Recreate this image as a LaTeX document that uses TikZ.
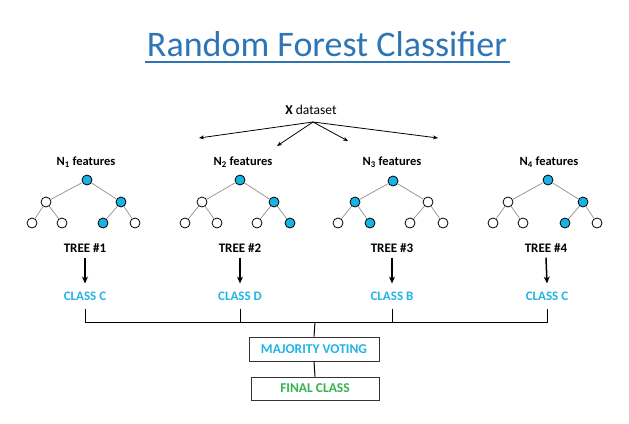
\documentclass[tikz,border=0pt]{standalone}
\usepackage{fontspec}
\setmainfont{Carlito}
\usetikzlibrary{arrows.meta}
\definecolor{titleblue}{RGB}{46,117,182}
\definecolor{cyanblue}{RGB}{34,180,228}
\definecolor{nodeblue}{RGB}{26,178,226}
\definecolor{greenclass}{RGB}{52,180,80}
\tikzset{
  wnode/.style={circle,draw=black,line width=0.8pt,fill=white,minimum size=10pt,inner sep=0pt},
  bnode/.style={circle,draw=black,line width=0.8pt,fill=nodeblue,minimum size=10pt,inner sep=0pt},
  edge/.style={draw=gray!80,line width=0.8pt},
  feat/.style={font=\bfseries\fontsize{12.5}{13}\selectfont,inner sep=0pt},
  treelab/.style={font=\bfseries\fontsize{13}{14}\selectfont,inner sep=0pt},
  classlab/.style={font=\bfseries\fontsize{13}{14}\selectfont,text=cyanblue,inner sep=0pt},
  darrow/.style={-{Stealth[length=5pt,width=4pt]},line width=0.8pt},
  tarrow/.style={-{Stealth[length=7pt,width=6pt]},line width=1.5pt},
  conn/.style={line width=1pt},
  box/.style={draw=black!80,line width=0.9pt,minimum width=130pt,minimum height=24pt,inner sep=0pt,font=\bfseries\fontsize{13.5}{14}\selectfont}
}
\begin{document}
\begin{tikzpicture}[x=1pt,y=-1pt]
\useasboundingbox (0,0) rectangle (629,423);
% title
\node[text=titleblue,font=\fontsize{36}{40}\selectfont,inner sep=0pt] (title) at (327,44) {Random Forest Classifier};
\draw[titleblue,line width=1.2pt] (145,62) -- (510,62);
% dataset
\node[inner sep=0pt,font=\fontsize{13.5}{14}\selectfont] (ds) at (311,110) {\textbf{X} dataset};
\coordinate (dso) at (313,122);
\coordinate (d1) at (199,138);
\coordinate (d2) at (277,146);
\coordinate (d3) at (348,141);
\coordinate (d4) at (438,138);
\foreach \d in {d1,d2,d3,d4} \draw[darrow] (dso) -- (\d);
% feature labels
\node[feat] (f1) at (86,162) {N\textsubscript{1} features};
\node[feat] (f2) at (243,162) {N\textsubscript{2} features};
\node[feat] (f3) at (392,162) {N\textsubscript{3} features};
\node[feat] (f4) at (549,162) {N\textsubscript{4} features};
% tree 1
\node[bnode] (a0) at (87,180) {};
\node[wnode] (a1) at (46,202) {};
\node[bnode] (a2) at (121,202) {};
\node[wnode] (a3) at (32,223) {};
\node[wnode] (a4) at (62,223) {};
\node[bnode] (a5) at (103,223) {};
\node[wnode] (a6) at (135,223) {};
% tree 2
\node[bnode] (b0) at (240,180) {};
\node[wnode] (b1) at (202,202) {};
\node[bnode] (b2) at (274,202) {};
\node[wnode] (b3) at (185,223) {};
\node[wnode] (b4) at (217,223) {};
\node[wnode] (b5) at (257,223) {};
\node[bnode] (b6) at (290,223) {};
% tree 3
\node[bnode] (c0) at (393,181) {};
\node[bnode] (c1) at (355,202) {};
\node[wnode] (c2) at (428,202) {};
\node[wnode] (c3) at (338,223) {};
\node[bnode] (c4) at (370,223) {};
\node[wnode] (c5) at (410,223) {};
\node[wnode] (c6) at (443,223) {};
% tree 4
\node[bnode] (e0) at (548,180) {};
\node[wnode] (e1) at (508,202) {};
\node[bnode] (e2) at (583,202) {};
\node[wnode] (e3) at (493,223) {};
\node[wnode] (e4) at (523,223) {};
\node[bnode] (e5) at (565,223) {};
\node[wnode] (e6) at (597,223) {};
\foreach \t in {a,b,c,e}{
  \draw[edge] (\t0) -- (\t1);
  \draw[edge] (\t0) -- (\t2);
  \draw[edge] (\t1) -- (\t3);
  \draw[edge] (\t1) -- (\t4);
  \draw[edge] (\t2) -- (\t5);
  \draw[edge] (\t2) -- (\t6);
}
% tree labels
\node[treelab] (t1) at (85,248) {TREE \#1};
\node[treelab] (t2) at (240,248) {TREE \#2};
\node[treelab] (t3) at (392,248) {TREE \#3};
\node[treelab] (t4) at (546,248) {TREE \#4};
% class labels
\node[classlab] (k1) at (85,296) {CLASS C};
\node[classlab] (k2) at (240,296) {CLASS D};
\node[classlab] (k3) at (392,296) {CLASS B};
\node[classlab] (k4) at (547,296) {CLASS C};
\foreach \i in {1,2,3,4} \draw[tarrow] ([yshift=-5pt]t\i.south) -- ([yshift=8pt]k\i.north);
% boxes
\node[box,text=cyanblue] (mv) at (314,349) {MAJORITY VOTING};
\node[box,text=greenclass,minimum width=128pt,minimum height=23pt] (fc) at (315,388.5) {FINAL CLASS};
% connectors
\coordinate (h) at (315,322);
\foreach \i in {1,2,3,4} \path (k\i.south) ++(0,8) coordinate (v\i);
\draw[conn] (v1) -- (v1 |- h) -- (v4 |- h) -- (v4);
\draw[conn] (v2) -- (v2 |- h);
\draw[conn] (v3) -- (v3 |- h);
\draw[conn] (h) -- (mv.north);
\draw[conn] (mv.south) -- (fc.north);
\end{tikzpicture}
\end{document}
